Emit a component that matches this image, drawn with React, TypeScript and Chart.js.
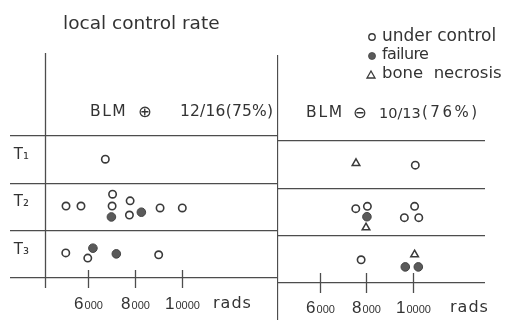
import React, { useEffect, useRef } from 'react';
import { Chart, registerables } from 'chart.js';

Chart.register(...registerables);

// ---------- data ----------
const rowLabels = ['T₁', 'T₂', 'T₃'];
const doseTicks = [6000, 8000, 10000];
const doseUnit = 'rads';
const titleText = 'local control rate';
const legendLabels = ['under control', 'failure', 'bone  necrosis'];
const leftHeading = ['BLM', '⊕', '12/16(75%)'];
const rightHeading = ['BLM', '⊖', '10/13', '(76%)'];

// points: [dose in rads, vertical position inside the T-rows (0 = top of T1 row, 3 = bottom of T3 row)]
const blmPlusControl = [
  [6740, 0.49],
  [5060, 1.48], [5700, 1.48], [7050, 1.23], [7030, 1.48], [7800, 1.37], [7770, 1.67], [9080, 1.52], [10030, 1.52],
  [5050, 2.47], [5990, 2.58], [9020, 2.51],
];
const blmPlusFailure = [
  [7000, 1.71], [8280, 1.61],
  [6210, 2.37], [7210, 2.49],
];
const blmPlusNecrosis: number[][] = [];

const blmMinusControl = [
  [10120, 0.51],
  [7560, 1.43], [8060, 1.38], [10090, 1.38], [9650, 1.62], [10270, 1.62],
  [7790, 2.51],
];
const blmMinusFailure = [
  [8040, 1.60],
  [9690, 2.66], [10250, 2.66],
];
const blmMinusNecrosis = [
  [7570, 0.47],
  [8000, 1.83],
  [10090, 2.40],
];

// ---------- styling ----------
const INK = '#333';
const LINE = '#4d4d4d';

const decorPlugin = {
  id: 'decor',
  beforeDatasetsDraw(chart: any, _args: any, opts: any) {
    const { ctx, chartArea } = chart;
    const xs = chart.scales.x;
    ctx.save();
    ctx.strokeStyle = LINE;
    ctx.lineWidth = 1.3;
    const vx = Math.round(chartArea.left) + 0.5;
    ctx.beginPath();
    ctx.moveTo(vx, chartArea.top - opts.lineAbove);
    ctx.lineTo(vx, opts.lineBelow < 0 ? chart.height : chartArea.bottom + opts.lineBelow);
    ctx.stroke();
    ctx.fillStyle = INK;
    ctx.textBaseline = 'alphabetic';
    for (const v of doseTicks) {
      const px = Math.round(xs.getPixelForValue(v)) + 0.5;
      ctx.beginPath();
      ctx.moveTo(px, chartArea.bottom - opts.tickUp);
      ctx.lineTo(px, chartArea.bottom + opts.tickDown);
      ctx.stroke();
      const s = String(v);
      const big = s.slice(0, 1);
      const small = s.slice(1);
      ctx.font = '17px "Liberation Sans"';
      const wb = ctx.measureText(big).width;
      ctx.font = '11px "Liberation Sans"';
      const ws = ctx.measureText(small).width;
      const start = px - (wb + ws + 1) / 2;
      const by = chartArea.bottom + opts.labelDy;
      ctx.font = '17px "Liberation Sans"';
      ctx.fillText(big, start, by);
      ctx.font = '11px "Liberation Sans"';
      ctx.fillText(small, start + wb + 1, by);
    }
    ctx.restore();
  },
};

const toXY = (arr: number[][]) => arr.map(([x, y]) => ({ x, y }));

type PanelProps = {
  left: number;
  width: number;
  padTop: number;
  padBottom: number;
  padRight: number;
  xMin: number;
  xMax: number;
  control: number[][];
  failure: number[][];
  necrosis: number[][];
  rowAxis: boolean;
  lineAbove: number;
  lineBelow: number;
  tickUp: number;
  tickDown: number;
  labelDy: number;
};

function Panel(p: PanelProps) {
  const ref = useRef<HTMLCanvasElement | null>(null);
  useEffect(() => {
    if (!ref.current) return;
    const chart = new Chart(ref.current, {
      type: 'scatter',
      data: {
        datasets: [
          {
            label: legendLabels[0],
            data: toXY(p.control),
            pointStyle: 'circle',
            pointRadius: 3.7,
            borderWidth: 1.6,
            borderColor: '#3a3a3a',
            backgroundColor: '#ffffff',
          },
          {
            label: legendLabels[1],
            data: toXY(p.failure),
            pointStyle: 'circle',
            pointRadius: 4.3,
            borderWidth: 1,
            borderColor: '#444',
            backgroundColor: '#5a5a5a',
          },
          {
            label: legendLabels[2],
            data: toXY(p.necrosis),
            pointStyle: 'triangle',
            pointRadius: 4.4,
            borderWidth: 1.5,
            borderColor: '#3a3a3a',
            backgroundColor: 'rgba(255,255,255,0)',
          },
        ],
      } as any,
      options: {
        animation: false,
        responsive: false,
        events: [],
        layout: {
          autoPadding: false,
          padding: { top: p.padTop, bottom: p.padBottom, right: p.padRight, left: 0 },
        },
        plugins: {
          legend: { display: false },
          tooltip: { enabled: false },
          decor: {
            lineAbove: p.lineAbove,
            lineBelow: p.lineBelow,
            tickUp: p.tickUp,
            tickDown: p.tickDown,
            labelDy: p.labelDy,
          },
        } as any,
        scales: {
          x: { type: 'linear', display: false, min: p.xMin, max: p.xMax },
          y: {
            type: 'linear',
            reverse: true,
            min: 0,
            max: 3,
            afterFit: (s: any) => {
              s.width = p.rowAxis ? 45 : 0;
            },
            border: { display: false },
            grid: {
              color: LINE,
              lineWidth: 1.2,
              drawTicks: p.rowAxis,
              tickLength: 35,
              tickColor: LINE,
              tickWidth: 1.2,
            },
            ticks: {
              display: p.rowAxis,
              stepSize: 1,
              autoSkip: false,
              labelOffset: 19,
              padding: -19,
              color: INK,
              font: { family: 'DejaVu Sans', size: 15 },
              callback: (v: any) => rowLabels[v as number] ?? '',
            },
          },
        },
      } as any,
      plugins: [decorPlugin],
    });
    return () => chart.destroy();
  }, []);
  return (
    <canvas
      ref={ref}
      width={p.width}
      height={320}
      style={{ position: 'absolute', left: p.left, top: 0, display: 'block', width: p.width, height: 320 }}
    />
  );
}

function Txt(props: { x: number; base: number; size: number; ls?: number; ws?: number; children: React.ReactNode }) {
  const { x, base, size, ls = 0, ws = 0, children } = props;
  return (
    <span
      style={{
        position: 'absolute',
        left: x,
        top: base - 0.846 * size,
        fontSize: size,
        lineHeight: 1,
        letterSpacing: ls,
        wordSpacing: ws,
        whiteSpace: 'pre',
        fontFamily: '"DejaVu Sans"',
        color: INK,
      }}
    >
      {children}
    </span>
  );
}

export default function App() {
  return (
    <div
      style={{
        position: 'fixed',
        left: 0,
        top: 0,
        width: 505,
        height: 320,
        background: '#ffffff',
        overflow: 'hidden',
      }}
    >
      <Panel
        left={0}
        width={278}
        padTop={136}
        padBottom={42}
        padRight={1}
        xMin={4162}
        xMax={14077}
        control={blmPlusControl}
        failure={blmPlusFailure}
        necrosis={blmPlusNecrosis}
        rowAxis={true}
        lineAbove={83}
        lineBelow={10}
        tickUp={8}
        tickDown={10}
        labelDy={31}
      />
      <Panel
        left={277}
        width={228}
        padTop={141}
        padBottom={37}
        padRight={20}
        xMin={4172}
        xMax={13118}
        control={blmMinusControl}
        failure={blmMinusFailure}
        necrosis={blmMinusNecrosis}
        rowAxis={false}
        lineAbove={86}
        lineBelow={-1}
        tickUp={10}
        tickDown={10}
        labelDy={30}
      />

      <Txt x={63} base={30} size={18.5}>{titleText}</Txt>

      <svg style={{ position: 'absolute', left: 364, top: 30 }} width={16} height={52}>
        <circle cx={8} cy={7} r={3.2} fill="none" stroke="#3a3a3a" strokeWidth={1.4} />
        <circle cx={8} cy={26} r={3.5} fill="#5a5a5a" stroke="#444" strokeWidth={0.8} />
        <polygon points="7,41 3,48 11,48" fill="none" stroke="#3a3a3a" strokeWidth={1.3} />
      </svg>
      <Txt x={382} base={41} size={17}>{legendLabels[0]}</Txt>
      <Txt x={382} base={60} size={16} ls={-0.6}>{legendLabels[1]}</Txt>
      <Txt x={382} base={79} size={16.5}>{legendLabels[2]}</Txt>

      <Txt x={90} base={117} size={15.5} ls={1.5}>{leftHeading[0]}</Txt>
      <Txt x={138} base={118} size={16.5}>{leftHeading[1]}</Txt>
      <Txt x={180} base={117} size={15.5} ls={0.2}>{leftHeading[2]}</Txt>

      <Txt x={306} base={118} size={15.5} ls={1.8}>{rightHeading[0]}</Txt>
      <Txt x={353} base={119} size={16.5}>{rightHeading[1]}</Txt>
      <Txt x={379} base={118} size={14.5}>{rightHeading[2]}</Txt>
      <Txt x={422} base={118} size={15} ls={2.5}>{rightHeading[3]}</Txt>

      <Txt x={213} base={309} size={16} ls={1}>{doseUnit}</Txt>
      <Txt x={450} base={313} size={16} ls={1}>{doseUnit}</Txt>
    </div>
  );
}
